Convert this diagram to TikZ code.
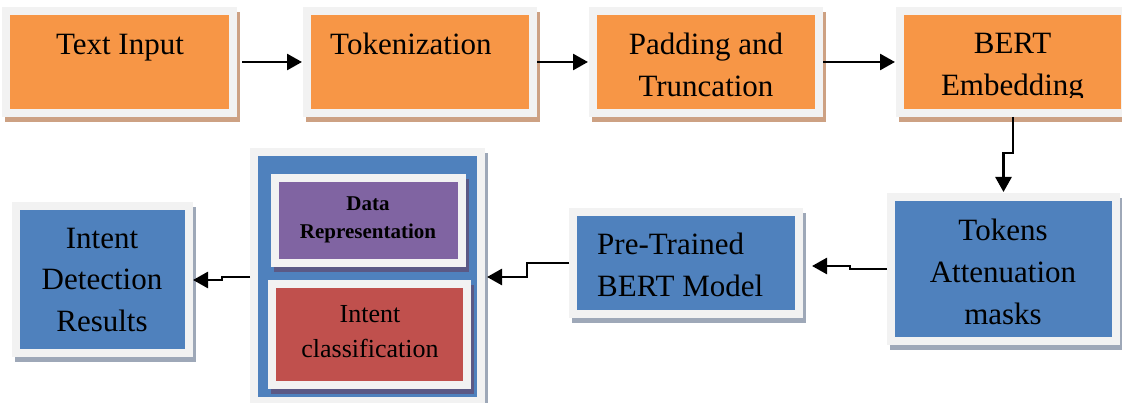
\documentclass[tikz,border=0pt]{standalone}
\usepackage{fontspec}
\setmainfont{Liberation Serif}
\usetikzlibrary{arrows.meta}
\definecolor{frameg}{HTML}{F2F2F2}
\definecolor{orangeF}{HTML}{F79646}
\definecolor{blueF}{HTML}{4F81BD}
\definecolor{purpleF}{HTML}{8064A2}
\definecolor{redF}{HTML}{C0504D}
\definecolor{tanS}{HTML}{CDA183}
\definecolor{greyS}{HTML}{9EA8B8}
\definecolor{darkS}{HTML}{5B5985}
\tikzset{
  panel/.style 2 args={draw=frameg, line width=8pt, fill=#1, inner sep=0pt,
    preaction={draw=#2, fill=#2, line width=8pt,
      transform canvas={shift={(2.5pt,-5pt)}}}},
  txt/.style={font=\fontsize{31}{42}\selectfont, inner sep=0pt, align=center},
  arr/.style={line width=2.7pt, -{Triangle[length=15pt,width=16pt]}},
}
\begin{document}
\begin{tikzpicture}[x=1pt,y=-1pt]
\useasboundingbox (0,0) rectangle (1122,403);
\clip (0,0) rectangle (1122,403);

% top row: preprocessing steps
\node[panel={orangeF}{tanS}, minimum width=227, minimum height=102] (b1) at (119.5,62) {};
\node[panel={orangeF}{tanS}, minimum width=226, minimum height=102] (b2) at (420,62) {};
\node[panel={orangeF}{tanS}, minimum width=226, minimum height=102] (b3) at (706,62) {};
\node[panel={orangeF}{tanS}, minimum width=225, minimum height=102] (b4) at (1012.5,62) {};

% lower row
\node[panel={blueF}{greyS}, minimum width=225, minimum height=144] (tk) at (1003.5,269) {};
\node[panel={blueF}{greyS}, minimum width=226, minimum height=102] (pt) at (686,263) {};
\node[panel={blueF}{greyS}, minimum width=227, minimum height=249] (big) at (367.5,276.5) {};
\node[panel={purpleF}{darkS}, minimum width=187, minimum height=85] (dr) at (368.5,220.5) {};
\node[panel={redF}{darkS}, minimum width=195, minimum height=101] (ic) at (369.5,334.5) {};
\node[panel={blueF}{greyS}, minimum width=173, minimum height=147] (idr) at (102.5,279.5) {};

% labels (multi-line nodes are placed by the baseline of their last line)
\node[txt, anchor=base] (t1) at (120,55) {Text Input};
\node[txt, anchor=base west] (t2) at (330,55) {Tokenization};
\node[txt, anchor=base] (t3) at (706,97) {Padding and\\Truncation};
\begin{scope}
  \clip (896,0) rectangle (1122,98);
  \node[txt, anchor=base] (t4) at (1012.5,96) {BERT\\Embedding};
\end{scope}
\node[txt, anchor=base] (t5) at (1003,325) {Tokens\\Attenuation\\masks};
\node[txt, anchor=base west, align=left] (t6) at (597,297) {Pre-Trained\\BERT Model};
\node[txt, anchor=base, font=\fontsize{21}{28}\selectfont\bfseries] (t7) at (368,239) {Data\\Representation};
\node[txt, anchor=base, font=\fontsize{26}{35}\selectfont] (t8) at (370,357) {Intent\\classification};
\node[txt, anchor=base] (t9) at (102,332) {Intent\\Detection\\Results};

% connectors
\draw[arr, shorten <=5pt, shorten >=1pt] (b1) -- (b2);
\draw[arr, shorten >=1pt] (b2) -- (b3);
\draw[arr, shorten >=1pt] (b3) -- (b4);

\coordinate (j1) at (1013,153);
\coordinate (j2) at (1003.5,153);
\draw[arr, shorten >=1pt] (b4.south -| j1) -- (j1) -- (j2) -- (tk.north);

\coordinate (j3) at (850,269);
\coordinate (j4) at (850,266);
\draw[arr, shorten >=9pt] (tk.west |- j3) -- (j3) -- (j4) -- (pt.east |- j4);

\coordinate (j5) at (527,263);
\coordinate (j6) at (527,277);
\draw[arr, shorten >=2pt] (pt.west |- j5) -- (j5) -- (j6) -- (big.east |- j6);

\coordinate (j7) at (222,277);
\coordinate (j8) at (222,280);
\draw[arr] (big.west |- j7) -- (j7) -- (j8) -- (idr.east |- j8);
\end{tikzpicture}
\end{document}
